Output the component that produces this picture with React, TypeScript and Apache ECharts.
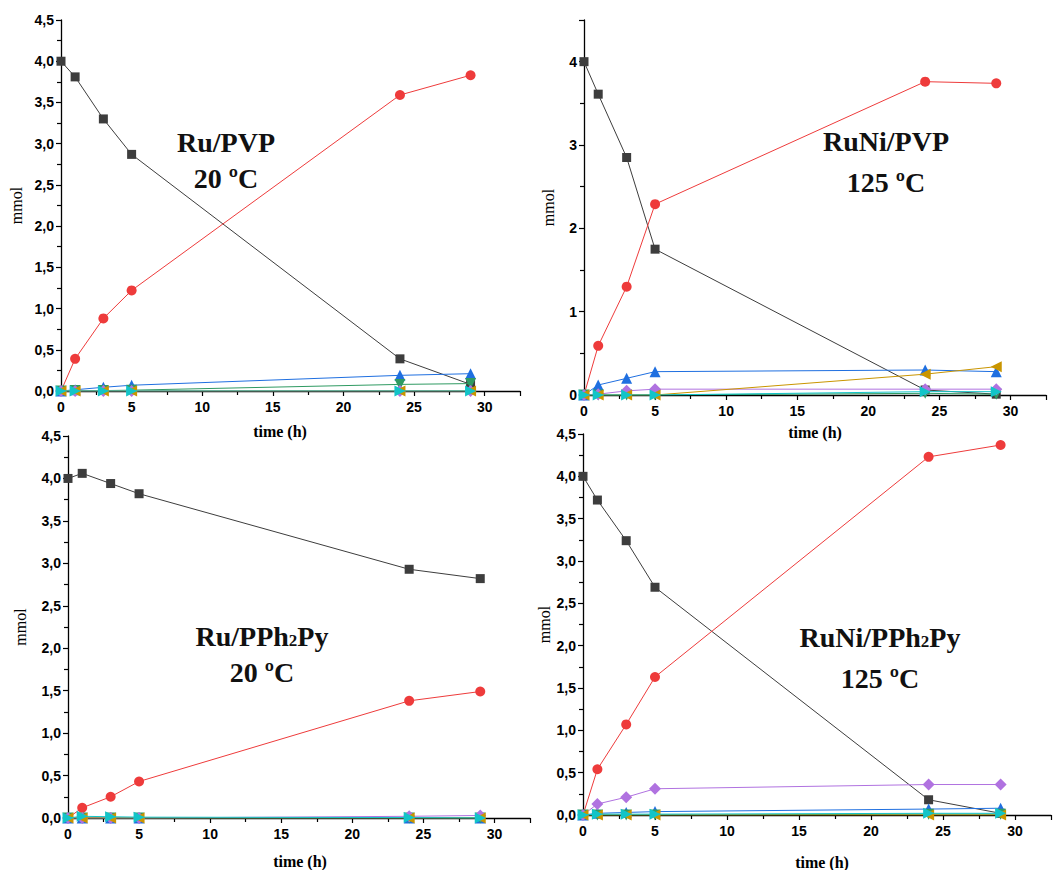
import React, { useEffect, useRef } from 'react';
import * as echarts from 'echarts';

const TIME = [0, 1, 3, 5, 24, 29];

// Panel A: Ru/PVP 20 ºC
const A_BLACK = [4.0, 3.81, 3.3, 2.87, 0.39, 0.08];
const A_RED = [0, 0.39, 0.88, 1.22, 3.59, 3.83];
const A_BLUE = [0, 0.015, 0.045, 0.07, 0.19, 0.21];
const A_GREEN = [0, 0.005, 0.005, 0.01, 0.08, 0.09];
const A_PURPLE = [0, 0, 0, 0, 0, 0];
const A_GOLD = [0, 0, 0, 0, 0, 0];
const A_CYAN = [0, 0, 0, 0, 0, 0];

// Panel B: RuNi/PVP 125 ºC
const B_BLACK = [4.0, 3.61, 2.85, 1.75, 0.06, 0.01];
const B_RED = [0, 0.59, 1.3, 2.29, 3.76, 3.74];
const B_BLUE = [0, 0.12, 0.2, 0.28, 0.3, 0.28];
const B_GREEN = [0, 0, 0, 0, 0.02, 0.01];
const B_PURPLE = [0, 0.01, 0.05, 0.07, 0.07, 0.07];
const B_GOLD = [0, 0, 0, 0, 0.25, 0.34];
const B_CYAN = [0, 0, 0, 0, 0.04, 0.04];

// Panel C: Ru/PPh2Py 20 ºC
const C_BLACK = [4.0, 4.06, 3.94, 3.82, 2.93, 2.82];
const C_RED = [0, 0.12, 0.25, 0.43, 1.38, 1.49];
const C_BLUE = [0, 0, 0, 0, 0, 0];
const C_GREEN = [0, 0, 0, 0, 0, 0];
const C_PURPLE = [0, 0, 0, 0, 0.02, 0.03];
const C_GOLD = [0, 0, 0, 0, 0, 0];
const C_CYAN = [0, 0.02, 0.015, 0.01, 0.005, 0];

// Panel D: RuNi/PPh2Py 125 ºC
const D_BLACK = [4.0, 3.72, 3.24, 2.69, 0.18, 0.02];
const D_RED = [0, 0.54, 1.07, 1.63, 4.23, 4.37];
const D_BLUE = [0, 0.02, 0.03, 0.04, 0.07, 0.08];
const D_GREEN = [0, 0, 0, 0, 0.01, 0.01];
const D_PURPLE = [0, 0.13, 0.21, 0.31, 0.36, 0.36];
const D_GOLD = [0, 0, 0, 0, 0, 0];
const D_CYAN = [0, 0.01, 0.01, 0.01, 0.02, 0.02];

const X_TICKS = [0, 5, 10, 15, 20, 25, 30];

const PANELS = [
  [A_BLACK, A_RED, A_BLUE, A_GREEN, A_PURPLE, A_GOLD, A_CYAN],
  [B_BLACK, B_RED, B_BLUE, B_GREEN, B_PURPLE, B_GOLD, B_CYAN],
  [C_BLACK, C_RED, C_BLUE, C_GREEN, C_PURPLE, C_GOLD, C_CYAN],
  [D_BLACK, D_RED, D_BLUE, D_GREEN, D_PURPLE, D_GOLD, D_CYAN],
];

const STYLES = [
  { color: '#3d3d3d', symbol: 'rect', size: 9, rotate: 0 },
  { color: '#ee3b3b', symbol: 'circle', size: 10, rotate: 0 },
  { color: '#1f6fe0', symbol: 'triangle', size: 11, rotate: 0 },
  { color: '#2f9a62', symbol: 'triangle', size: 11, rotate: 180 },
  { color: '#b072e0', symbol: 'diamond', size: 12, rotate: 0 },
  { color: '#c99500', symbol: 'triangle', size: 11, rotate: 90 },
  { color: '#12c4c8', symbol: 'triangle', size: 11, rotate: -90 },
];

const GRIDS = [
  { left: 61, top: 20, width: 459, height: 371 },
  { left: 584, top: 20, width: 462, height: 375 },
  { left: 68, top: 436, width: 462, height: 382 },
  { left: 583, top: 434, width: 477, height: 381 },
];

const Y_NAME_GAP = [37, 28, 40, 23];

const ANNOT = [
  { x: 226, y1: 142, y2: 178, l1: '{a|Ru/PVP}', l2: '20 ºC' },
  { x: 886, y1: 141, y2: 182, l1: '{a|RuNi/PVP}', l2: '125 ºC' },
  { x: 262, y1: 636, y2: 672, l1: '{a|Ru/PPh}{s|2}{a|Py}', l2: '20 ºC' },
  { x: 880, y1: 637, y2: 678, l1: '{a|RuNi/PPh}{s|2}{a|Py}', l2: '125 ºC' },
];

const XNAME = [
  { x: 280, y: 431 },
  { x: 815, y: 432 },
  { x: 300, y: 861 },
  { x: 822, y: 862 },
];

const commaFmt = (v: number) => v.toFixed(1).replace('.', ',');

export default function App() {
  const ref = useRef<HTMLDivElement>(null);
  useEffect(() => {
    if (!ref.current) return;
    const chart = echarts.init(ref.current, undefined, { renderer: 'svg' });
    const labelStyle = {
      fontFamily: 'Liberation Sans, Arial, sans-serif',
      fontWeight: 'bold' as const,
      fontSize: 14,
      color: '#000',
    };
    const xAxis = GRIDS.map((_, i) => ({
      type: 'value',
      gridIndex: i,
      min: 0,
      max: 32.5,
      interval: 5,
      axisLine: { show: true, onZero: false, lineStyle: { color: '#000', width: 1.3 } },
      axisTick: { show: true, inside: false, length: 5, lineStyle: { color: '#000', width: 1.2 } },
      minorTick: { show: true, splitNumber: 2, length: 4, lineStyle: { color: '#000', width: 1.2 } },
      splitLine: { show: false },
      axisLabel: {
        ...labelStyle,
        margin: 9,
        formatter: (v: number) => (X_TICKS.indexOf(v) >= 0 ? String(v) : ''),
      },
    }));
    const yAxis = GRIDS.map((_, i) => ({
      type: 'value',
      gridIndex: i,
      min: 0,
      max: 4.5,
      interval: i === 1 ? 1 : 0.5,
      name: 'mmol',
      nameLocation: 'middle',
      nameGap: Y_NAME_GAP[i],
      nameTextStyle: { fontFamily: 'Liberation Serif, serif', fontSize: 16, color: '#000' },
      axisLine: { show: true, onZero: false, lineStyle: { color: '#000', width: 1.3 } },
      axisTick: { show: true, inside: false, length: 5, lineStyle: { color: '#000', width: 1.2 } },
      minorTick: { show: true, splitNumber: 2, length: 4, lineStyle: { color: '#000', width: 1.2 } },
      splitLine: { show: false },
      axisLabel: {
        ...labelStyle,
        margin: 7,
        formatter: (v: number) =>
          i === 1 ? (Number.isInteger(v) ? String(v) : '') : commaFmt(v),
      },
    }));
    const series: any[] = [];
    PANELS.forEach((panel, i) => {
      panel.forEach((vals, k) => {
        const st = STYLES[k];
        series.push({
          type: 'line',
          xAxisIndex: i,
          yAxisIndex: i,
          data: TIME.map((t, j) => [t, vals[j]]),
          symbol: st.symbol,
          symbolSize: st.size,
          symbolRotate: st.rotate,
          showAllSymbol: true,
          lineStyle: { color: st.color, width: 1 },
          itemStyle: { color: st.color },
          z: 2 + k,
        });
      });
    });
    const graphic: any[] = [];
    ANNOT.forEach((a) => {
      graphic.push({
        type: 'text',
        x: a.x,
        y: a.y1,
        style: {
          text: a.l1,
          align: 'center',
          verticalAlign: 'middle',
          rich: {
            a: { fontFamily: 'Liberation Serif, serif', fontWeight: 'bold', fontSize: 28, fill: '#111' },
            s: { fontFamily: 'Liberation Serif, serif', fontWeight: 'bold', fontSize: 17, fill: '#111', padding: [8, 0, 0, 0] },
          },
        },
      });
      graphic.push({
        type: 'text',
        x: a.x,
        y: a.y2,
        style: {
          text: a.l2,
          align: 'center',
          verticalAlign: 'middle',
          fontFamily: 'Liberation Serif, serif',
          fontWeight: 'bold',
          fontSize: 28,
          fill: '#111',
        },
      });
    });
    XNAME.forEach((p) => {
      graphic.push({
        type: 'text',
        x: p.x,
        y: p.y,
        style: {
          text: 'time (h)',
          align: 'center',
          verticalAlign: 'middle',
          fontFamily: 'Liberation Serif, serif',
          fontWeight: 'bold',
          fontSize: 16,
          fill: '#000',
        },
      });
    });
    chart.setOption({
      animation: false,
      backgroundColor: '#fff',
      grid: GRIDS.map((g) => ({ ...g, containLabel: false })),
      xAxis,
      yAxis,
      series,
      graphic,
    });
    return () => chart.dispose();
  }, []);
  return (
    <div
      ref={ref}
      style={{ position: 'absolute', left: 0, top: 0, width: 1054, height: 870 }}
    />
  );
}
